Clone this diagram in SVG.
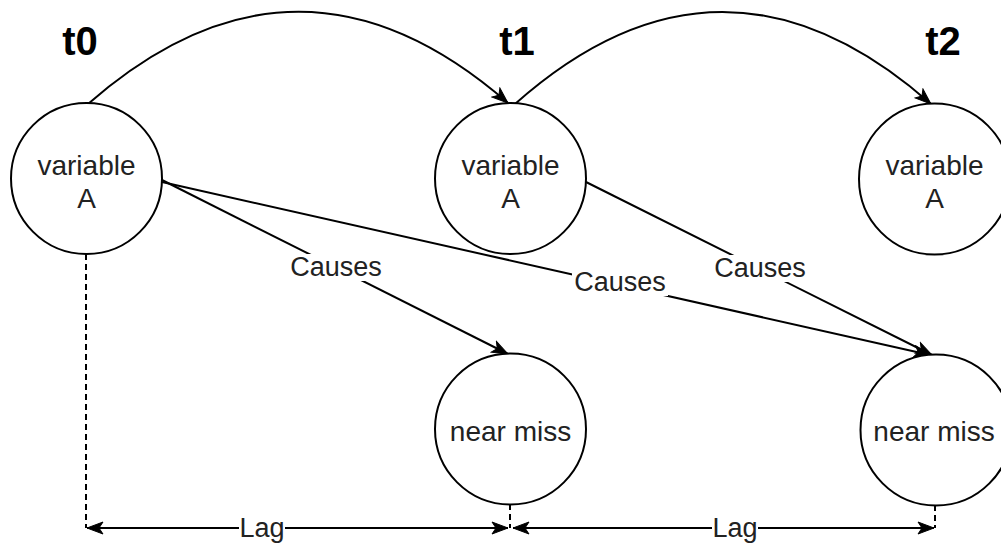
<svg xmlns="http://www.w3.org/2000/svg" width="1001" height="543" viewBox="0 0 1001 543">
<style>
  .node { fill: #ffffff; stroke: #000000; stroke-width: 2; }
  .txt { font-family: "Liberation Sans", Arial, sans-serif; font-size: 28px; fill: #222222; text-anchor: middle; }
  .title { font-family: "Liberation Sans", Arial, sans-serif; font-size: 40px; font-weight: bold; fill: #000000; text-anchor: middle; }
  .edge { fill: none; stroke: #000000; stroke-width: 2; }
  .dash { fill: none; stroke: #000000; stroke-width: 2; stroke-dasharray: 6 4; }
  .lbl { font-family: "Liberation Sans", Arial, sans-serif; font-size: 27px; fill: #222222; text-anchor: middle; }
  .lblbg { fill: #ffffff; }
</style>
<defs>
  <marker id="arr" markerUnits="userSpaceOnUse" markerWidth="18" markerHeight="14" refX="17" refY="7" orient="auto-start-reverse">
    <path d="M1,1 L17,7 L1,13 L5,7 z" fill="#000000" stroke="#000000" stroke-width="1"/>
  </marker>
</defs>
<rect width="1001" height="543" fill="#ffffff"/>

<g id="titles">
  <text class="title" x="80" y="55">t0</text>
  <text class="title" x="517" y="55">t1</text>
  <text class="title" x="943" y="55">t2</text>
</g>

<g id="connectors">
  <path class="edge" d="M88,104 Q298,-80 508,103" marker-end="url(#arr)"/>
  <path class="edge" d="M515,104 Q722,-80 931,104" marker-end="url(#arr)"/>
  <line class="edge" x1="162" y1="180" x2="508" y2="354" marker-end="url(#arr)"/>
  <line class="edge" x1="162" y1="182" x2="930" y2="355" marker-end="url(#arr)"/>
  <line class="edge" x1="586" y1="182" x2="932" y2="355" marker-end="url(#arr)"/>
  <line class="dash" x1="86" y1="254" x2="86" y2="528"/>
  <line class="dash" x1="510" y1="504" x2="510" y2="528"/>
  <line class="dash" x1="935" y1="505" x2="935" y2="528"/>
  <line class="edge" x1="87" y1="528" x2="508" y2="528" marker-start="url(#arr)" marker-end="url(#arr)"/>
  <line class="edge" x1="513" y1="528" x2="934" y2="528" marker-start="url(#arr)" marker-end="url(#arr)"/>
  <rect class="lblbg" x="288" y="254" width="96" height="27"/>
  <text class="lbl" x="336" y="276">Causes</text>
  <rect class="lblbg" x="572" y="269" width="96" height="27"/>
  <text class="lbl" x="620" y="291">Causes</text>
  <rect class="lblbg" x="712" y="255" width="96" height="27"/>
  <text class="lbl" x="760" y="277">Causes</text>
  <rect class="lblbg" x="239" y="515" width="46" height="26"/>
  <text class="lbl" x="262" y="537">Lag</text>
  <rect class="lblbg" x="712" y="515" width="46" height="26"/>
  <text class="lbl" x="735" y="537">Lag</text>
</g>

<g id="varA-t0">
  <circle class="node" cx="86.5" cy="178.5" r="75.5"/>
  <text class="txt" x="86.5" y="175">variable</text>
  <text class="txt" x="86.5" y="208">A</text>
</g>
<g id="varA-t1">
  <circle class="node" cx="510.5" cy="178.5" r="75.5"/>
  <text class="txt" x="510.5" y="175">variable</text>
  <text class="txt" x="510.5" y="208">A</text>
</g>
<g id="varA-t2">
  <circle class="node" cx="934.5" cy="179" r="75.5"/>
  <text class="txt" x="934.5" y="175">variable</text>
  <text class="txt" x="934.5" y="208">A</text>
</g>
<g id="nearmiss-t1">
  <circle class="node" cx="510.5" cy="429" r="75.5"/>
  <text class="txt" x="510.5" y="441">near miss</text>
</g>
<g id="nearmiss-t2">
  <circle class="node" cx="936" cy="430" r="75.5"/>
  <text class="txt" x="934" y="441">near miss</text>
</g>
</svg>
